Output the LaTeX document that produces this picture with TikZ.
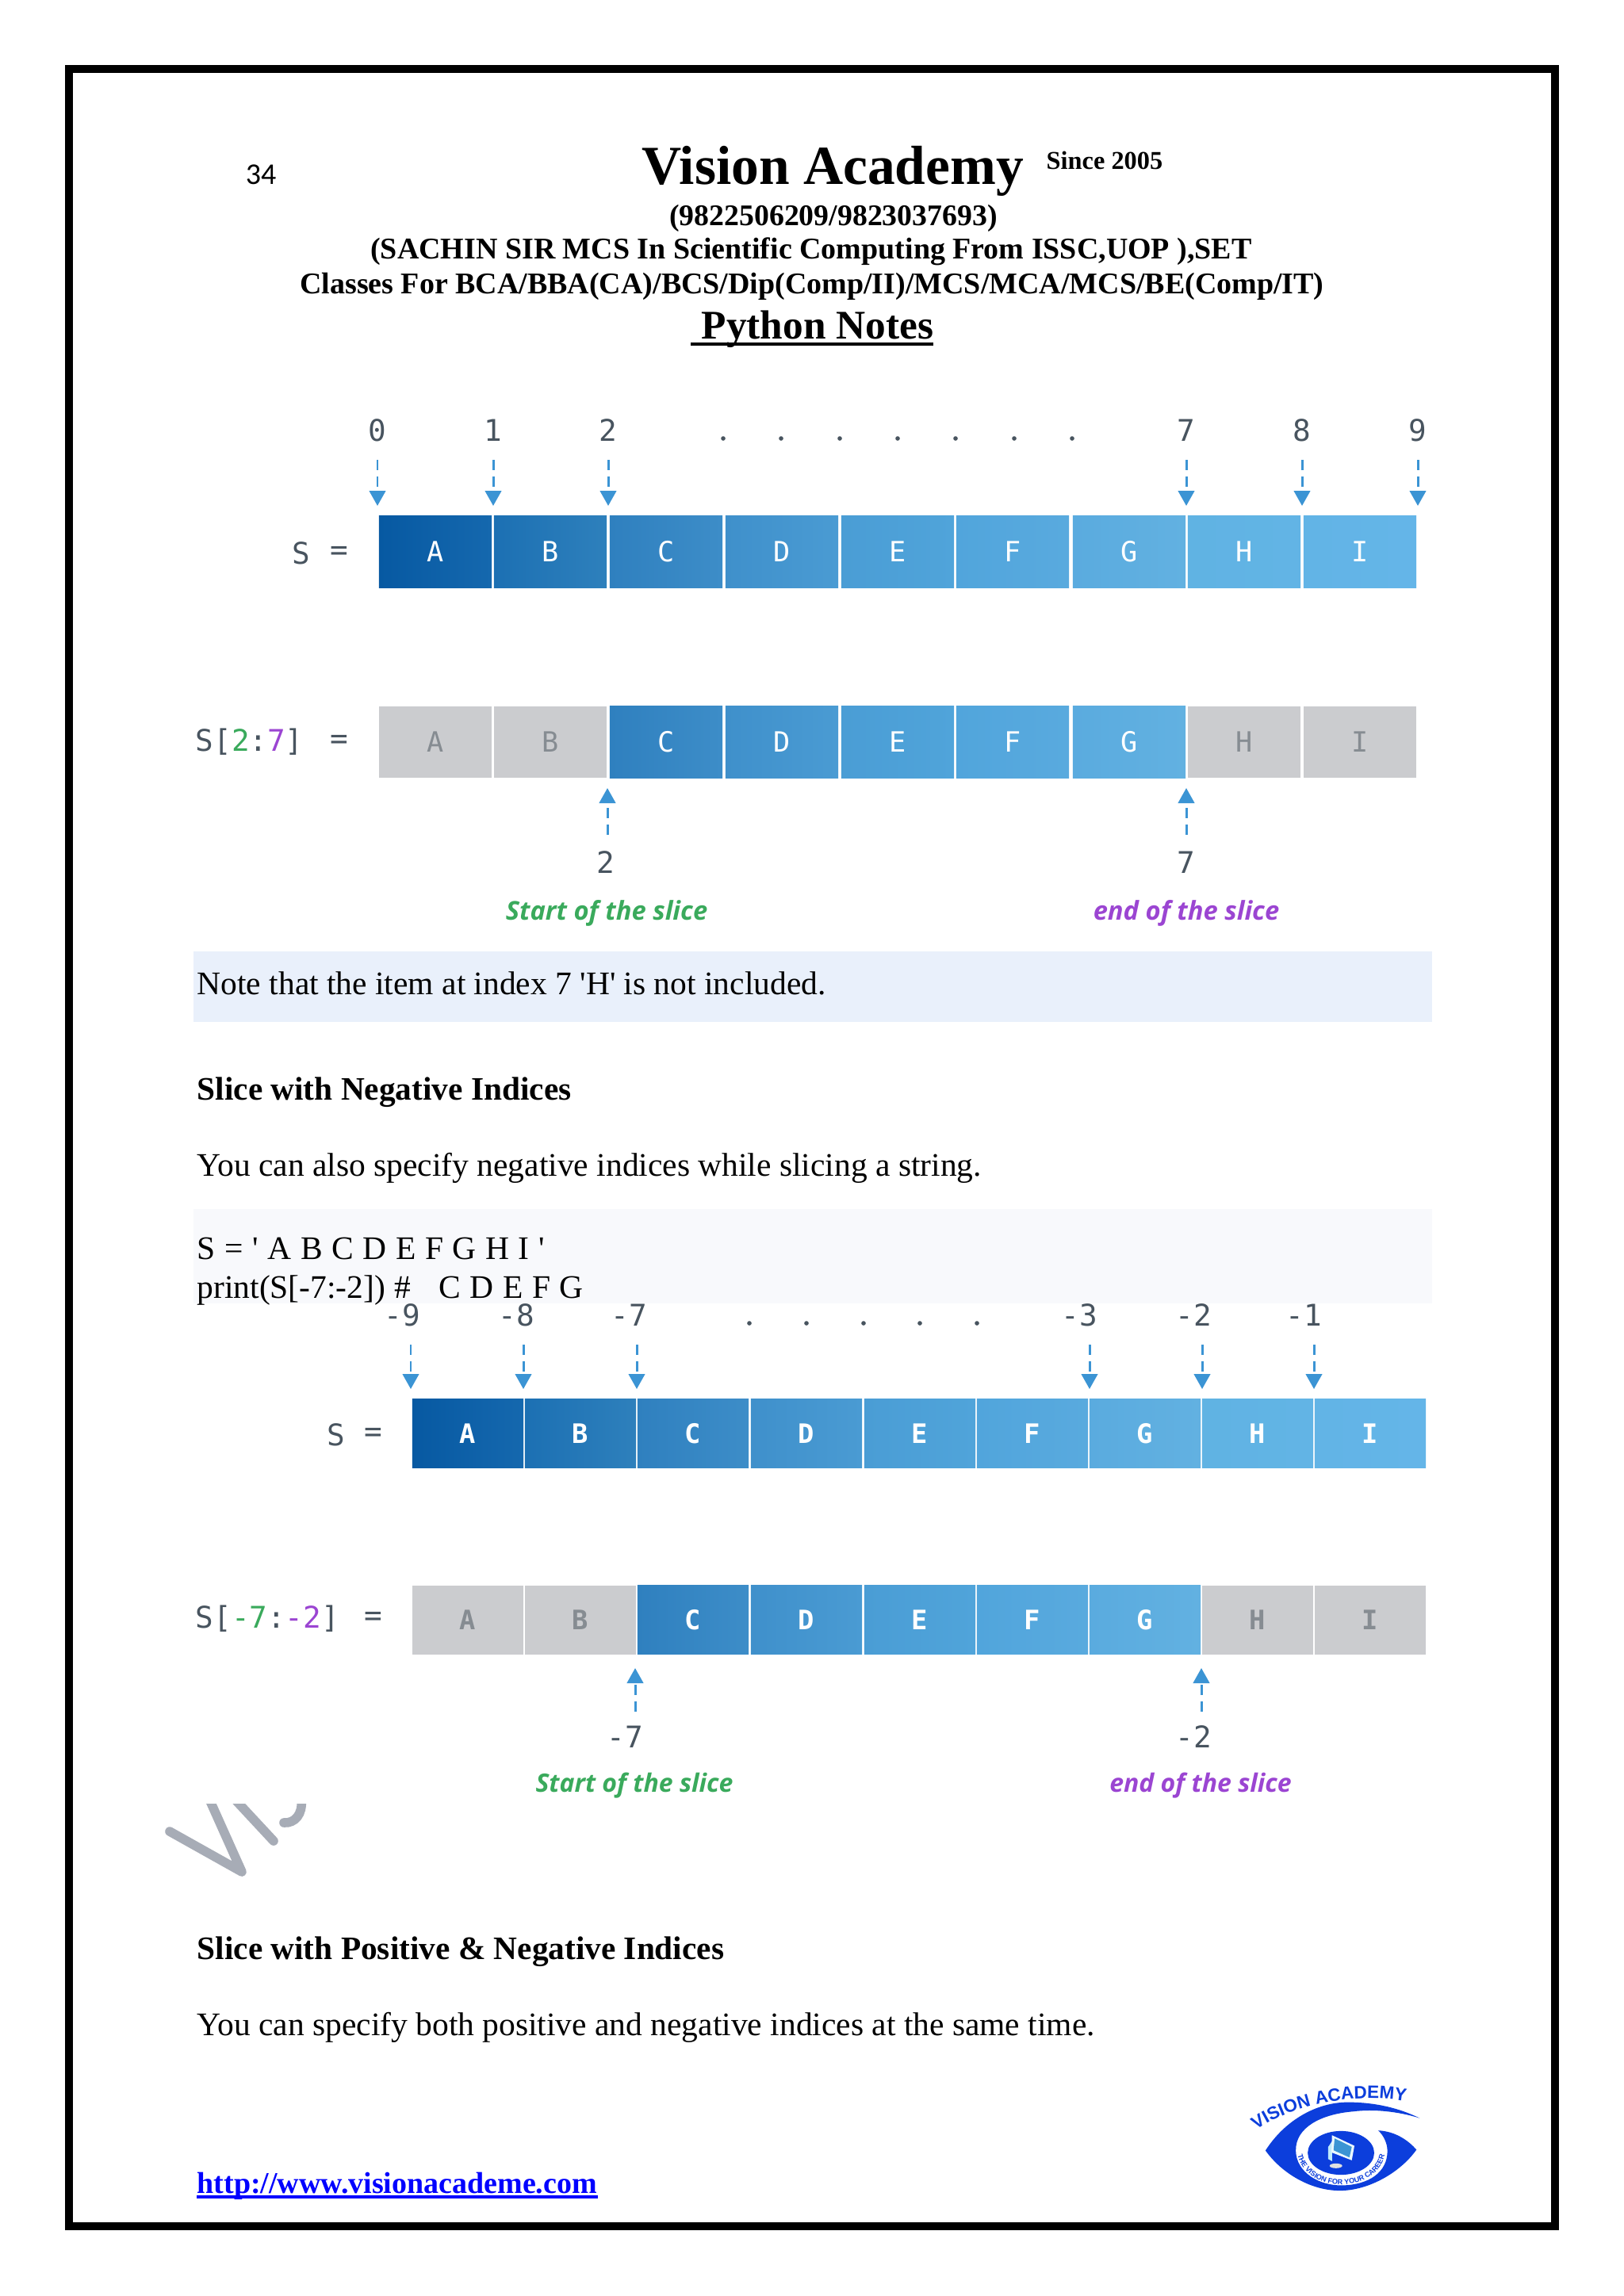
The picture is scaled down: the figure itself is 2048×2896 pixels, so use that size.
\documentclass[tikz,border=0pt]{standalone}
\usepackage{fontspec}
\setmainfont{Liberation Serif}
\newfontfamily\monoa{DejaVu Sans Mono}
\newfontfamily\slicefont{Open Sans}
\newfontfamily\carlitofont{Carlito}
\newfontfamily\logofont{Liberation Sans}
\usetikzlibrary{arrows.meta,decorations.text}

\definecolor{slicegreen}{HTML}{3AAA5C}
\definecolor{slicepurple}{HTML}{9B45D2}
\definecolor{arrowblue}{HTML}{3B94D4}
\definecolor{inktext}{HTML}{48545F}
\definecolor{dimcell}{HTML}{CBCCCF}
\definecolor{dimtext}{HTML}{868C92}
\definecolor{noteband}{HTML}{E9F0FB}
\definecolor{codeband}{HTML}{F8F9FC}
\definecolor{markgrey}{HTML}{A7ACB6}
\definecolor{logoblue}{HTML}{0C3EDC}
\definecolor{cAl}{HTML}{0759A2}\definecolor{cAr}{HTML}{1568AE}
\definecolor{cBl}{HTML}{1C70B3}\definecolor{cBr}{HTML}{2E80BC}
\definecolor{cCl}{HTML}{2F80BF}\definecolor{cCr}{HTML}{3D8DC8}
\definecolor{cDl}{HTML}{3F90CB}\definecolor{cDr}{HTML}{4A9BD3}
\definecolor{cEl}{HTML}{4A9DD5}\definecolor{cEr}{HTML}{50A4DA}
\definecolor{cFl}{HTML}{51A5DC}\definecolor{cFr}{HTML}{59AADE}
\definecolor{cGl}{HTML}{5AABDF}\definecolor{cGr}{HTML}{62B1E1}
\definecolor{cHl}{HTML}{60B3E3}\definecolor{cHr}{HTML}{62B4E5}
\definecolor{cIl}{HTML}{62B4E6}\definecolor{cIr}{HTML}{64B5E8}

\newcommand{\logotopfont}{\logofont\bfseries\fontsize{6.4}{7}\selectfont\color{logoblue}}
\newcommand{\logorimfont}{\logofont\bfseries\fontsize{2.6}{3}\selectfont\color{logoblue}}
\newcommand{\codespace}{\spaceskip=3.3pt\relax}

\tikzset{
    bodytxt/.style={anchor=base west,inner sep=0pt,font=\fontsize{11.8}{14}\selectfont},
    boldtxt/.style={bodytxt,font=\bfseries\fontsize{#1}{14}\selectfont},
    headtxt/.style={anchor=base,inner sep=0pt,font=\bfseries\fontsize{#1}{#1}\selectfont},
    cellone/.style={minimum width=1.42cm,minimum height=0.9cm,inner sep=0pt,font=\monoa\fontsize{10}{10}\selectfont},
    celltwo/.style={minimum width=1.40cm,minimum height=0.87cm,inner sep=0pt,font=\monoa\bfseries\fontsize{9.6}{10}\selectfont},
    idxone/.style={inner sep=0pt,text=inktext,font=\monoa\fontsize{10.7}{11}\selectfont},
    idxarrow/.style={arrowblue,line width=0.85pt,dash pattern=on 3.7pt off 2.3pt,-{Triangle[length=5.4pt,width=5.8pt]}},
    slicetxt/.style={inner sep=0pt,font=\slicefont\bfseries\itshape\fontsize{#1}{#1}\selectfont},
    indexdot/.style={circle,fill=inktext,inner sep=0pt,minimum size=1.6pt},
}

\begin{document}
\begin{tikzpicture}[x=0.01cm,y=-0.01cm]
    \useasboundingbox (0,0) rectangle (2048,2896);
    \fill[white] (0,0) rectangle (2048,2896);
    \draw[line width=2.85pt] (87,87) rectangle (1961,2808);

    % Page head.
    \node[anchor=base,inner sep=0pt,font=\carlitofont\fontsize{10.8}{11}\selectfont] (pagenum) at (329,232) {34};
    \node[headtxt=19.75] (title) at (1050,232) {Vision Academy};
    \node[headtxt=9.2,anchor=base west] (since) at (1319,213) {Since 2005};
    \node[headtxt=10.75] (phones) at (1051,284) {(9822506209/9823037693)};
    \node[headtxt=10.8] (sachin) at (1023,326) {(SACHIN SIR MCS In Scientific Computing From ISSC,UOP ),SET};
    \node[headtxt=10.8] (classes) at (1024,370) {Classes For BCA/BBA(CA)/BCS/Dip(Comp/II)/MCS/MCA/MCS/BE(Comp/IT)};
    \node[headtxt=14.6] (notes) at (1031,427) {Python Notes};
    \draw[line width=1.3pt] (871,434) -- (1177,434);

    % First pair of bars.
    \foreach \nm/\lft/\lab in {a/478/A,b/623/B,c/769/C,d/915/D,e/1061/E,f/1206/F,g/1353/G,h/1498/H,i/1644/I}
        \node[cellone,text=white,left color=c\lab l,right color=c\lab r] (whole\nm) at (\lft+71,696) {\lab};
    \foreach \nm/\lft/\lab in {c/769/C,d/915/D,e/1061/E,f/1206/F,g/1353/G}
        \node[cellone,text=white,left color=c\lab l,right color=c\lab r] (part\nm) at (\lft+71,936) {\lab};
    \foreach \nm/\lft/\lab in {a/478/A,b/623/B,h/1498/H,i/1644/I}
        \node[cellone,text=dimtext,fill=dimcell] (part\nm) at (\lft+71,936) {\lab};

    \node[idxone] (sname) at (380,698) {S};
    \node[idxone] (seq) at (428,698) {=};
    \node[idxone,anchor=west] (slname) at (246,936) {S[\textcolor{slicegreen}{2}:\textcolor{slicepurple}{7}]};
    \node[idxone] (sleq) at (428,936) {=};

    \foreach \nm/\ax/\tx in {n/476/0,o/622/1,p/767/2,q/1496/7,r/1642/8,s/1788/9} {
        \node[idxone] (lab\nm) at (\ax,543) {\tx};
        \coordinate (tail\nm) at (\ax,580);
        \coordinate (tip\nm) at (\ax,638);
        \draw[idxarrow] (tail\nm) -- (tip\nm);
    }
    \foreach \nm/\ax in {a/912,b/985,c/1059,d/1132,e/1205,f/1279,g/1352}
        \node[indexdot] (dotup\nm) at (\ax,553) {};

    \node[idxone] (startnum) at (764,1088) {2};
    \node[idxone] (endnum) at (1496,1088) {7};
    \coordinate (starttail) at (766,1053);
    \coordinate (starttip) at (766,994);
    \coordinate (endtail) at (1496,1053);
    \coordinate (endtip) at (1496,994);
    \draw[idxarrow] (starttail) -- (starttip);
    \draw[idxarrow] (endtail) -- (endtip);
    \node[slicetxt=9.3,text=slicegreen] (starttxt) at (765,1152) {Start of the slice};
    \node[slicetxt=9.3,text=slicepurple] (endtxt) at (1496,1152) {end of the slice};

    % Text between the bars.
    \fill[noteband] (244,1200) rectangle (1806,1289);
    \node[bodytxt] (note) at (248,1254) {Note that the item at index 7 \textquotesingle H\textquotesingle\ is not included.};
    \node[boldtxt=11.75] (neghead) at (248,1387) {Slice with Negative Indices};
    \node[bodytxt] (negtxt) at (248,1483) {You can also specify negative indices while slicing a string.};
    \fill[codeband] (244,1525) rectangle (1806,1644);
    \node[bodytxt] (codea) at (248,1588) {\codespace S = \textquotesingle\ A B C D E F G H I \textquotesingle};
    \node[bodytxt] (codeb) at (248,1637) {\codespace print(S[-7:-2]) \#\ \ \ C D E F G};

    % Second pair of bars.
    \foreach \nm/\lft/\lab in {a/520/A,b/662/B,c/804/C,d/947/D,e/1090/E,f/1232/F,g/1374/G,h/1516/H,i/1658/I}
        \node[celltwo,text=white,left color=c\lab l,right color=c\lab r] (negwhole\nm) at (\lft+70,1808) {\lab};
    \foreach \nm/\lft/\lab in {c/804/C,d/947/D,e/1090/E,f/1232/F,g/1374/G}
        \node[celltwo,text=white,left color=c\lab l,right color=c\lab r] (negpart\nm) at (\lft+70,2043) {\lab};
    \foreach \nm/\lft/\lab in {a/520/A,b/662/B,h/1516/H,i/1658/I}
        \node[celltwo,text=dimtext,fill=dimcell] (negpart\nm) at (\lft+70,2043) {\lab};

    \node[idxone] (negname) at (424,1810) {S};
    \node[idxone] (negeq) at (471,1810) {=};
    \node[idxone,anchor=west] (neglname) at (246,2042) {S[\textcolor{slicegreen}{-7}:\textcolor{slicepurple}{-2}]};
    \node[idxone] (neglq) at (471,2042) {=};

    \foreach \nm/\ax/\lx/\tx in {n/518/507/-9,o/660/651/-8,p/803/793/-7,q/1374/1361/-3,r/1516/1505/-2,s/1657/1644/-1} {
        \node[idxone] (neglab\nm) at (\lx,1659) {\tx};
        \coordinate (negtail\nm) at (\ax,1696);
        \coordinate (negtip\nm) at (\ax,1752);
        \draw[idxarrow] (negtail\nm) -- (negtip\nm);
    }
    \foreach \nm/\ax in {a/945,b/1017,c/1089,d/1160,e/1232}
        \node[indexdot] (dotlow\nm) at (\ax,1669) {};

    \node[idxone] (negstartnum) at (788,2191) {-7};
    \node[idxone] (negendnum) at (1505,2191) {-2};
    \coordinate (negstarttail) at (801,2159);
    \coordinate (negstarttip) at (801,2104);
    \coordinate (negendtail) at (1515,2159);
    \coordinate (negendtip) at (1515,2104);
    \draw[idxarrow] (negstarttail) -- (negstarttip);
    \draw[idxarrow] (negendtail) -- (negendtip);
    \node[slicetxt=9.1,text=slicegreen] (negstarttxt) at (800,2252) {Start of the slice};
    \node[slicetxt=9.1,text=slicepurple] (negendtxt) at (1514,2252) {end of the slice};

    % Cut-off watermark.
    \begin{scope}
        \clip (190,2275) rectangle (420,2400);
        \draw[markgrey,line width=3.3pt,line join=round,line cap=round]
            (214,2310) -- (305,2361) -- (262,2265);
        \draw[markgrey,line width=3.3pt,line cap=round] (292,2265) -- (345,2322);
        \draw[markgrey,line width=3.3pt,line cap=round]
            (358,2299) .. controls (372,2300) and (382,2288) .. (380,2270);
    \end{scope}

    % Last section and footer.
    \node[boldtxt=11.75] (bothhead) at (248,2471) {Slice with Positive \& Negative Indices};
    \node[bodytxt] (bothtxt) at (248,2567) {You can specify both positive and negative indices at the same time.};
    \node[boldtxt=10.8,text=blue] (weblink) at (248,2766) {http://www.visionacademe.com};
    \draw[blue,line width=0.9pt] ([yshift=-1.4pt]weblink.base west) -- ([yshift=-1.4pt]weblink.base east);

    % Eye logo, in its own small grid.
    \begin{scope}[shift={(1520,2600)},x=0.00333cm,y=-0.00333cm]
        \fill[logoblue] (228,338) .. controls (300,225) and (420,155) .. (540,155)
            .. controls (650,155) and (740,180) .. (812,215)
            .. controls (730,190) and (640,180) .. (560,190)
            .. controls (440,200) and (340,250) .. (343,340)
            .. controls (345,420) and (430,472) .. (520,470)
            .. controls (620,468) and (690,420) .. (690,340)
            .. controls (690,310) and (675,280) .. (655,262)
            .. controls (720,265) and (770,300) .. (800,335)
            .. controls (740,420) and (620,490) .. (510,490)
            .. controls (400,490) and (290,425) .. (228,338) -- cycle;
        \fill[logoblue] (514,347) ellipse (126 and 83);
        \fill[cyan!25!white] (465,325) -- (482,300) -- (480,378) -- (465,370) -- cycle;
        \fill[cyan!8!white] (480,280) -- (565,320) -- (555,375) -- (478,345) -- cycle;
        \fill[arrowblue] (490,292) -- (555,324) -- (546,364) -- (486,337) -- cycle;
        \fill[black!12] (495,396) ellipse (24 and 9);
        \path[decorate,decoration={text along path,text align=center,
            text={|\logotopfont|VISION ACADEMY}}]
            (178,272) .. controls (300,175) and (550,110) .. (778,155);
        \path[decorate,decoration={text along path,text align=center,
            text={|\logorimfont|THE VISION FOR YOUR CAREER}}]
            (350,355) .. controls (385,505) and (645,505) .. (680,355);
    \end{scope}
\end{tikzpicture}
\end{document}
